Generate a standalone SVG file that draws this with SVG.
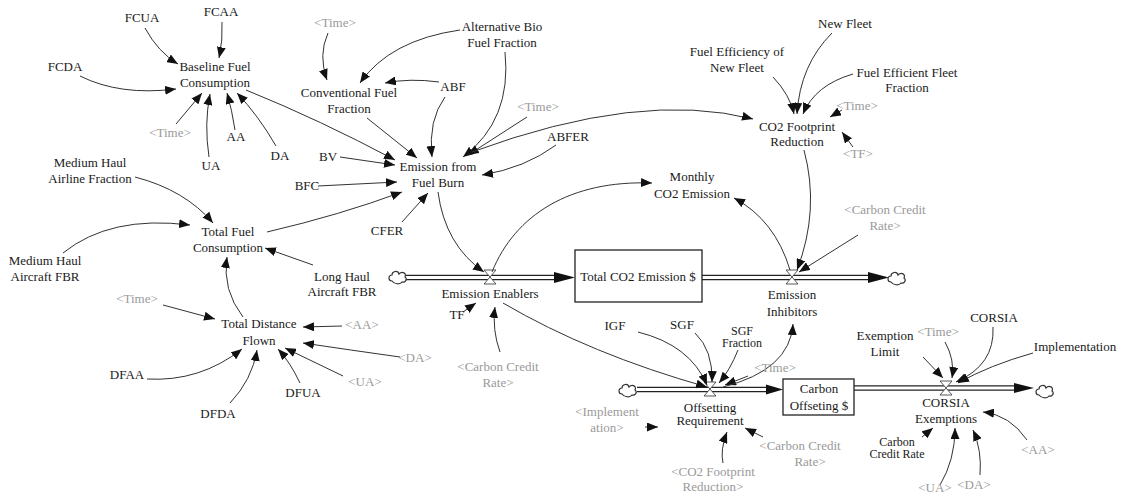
<svg xmlns="http://www.w3.org/2000/svg" width="1121" height="494" viewBox="0 0 1121 494" font-family="'Liberation Serif', 'DejaVu Serif', serif">
<style>
text{font-size:13px;fill:#1a1a1a;text-anchor:middle}
text.g{fill:#9a9a9a}
text.s{font-size:12px}
.link{fill:none;stroke:#333;stroke-width:1;marker-end:url(#ah)}
.pipeo{fill:none;stroke:#222;stroke-width:5.5}
.pipei{fill:none;stroke:#fff;stroke-width:2.8}
.box{fill:#fff;stroke:#222;stroke-width:1.3}
.valve{fill:#fff;stroke:#444;stroke-width:0.9}
.cloud{fill:#fff;stroke:#333;stroke-width:1.2}
.pa{fill:#111}
</style>
<defs>
<marker id="ah" markerUnits="userSpaceOnUse" markerWidth="12" markerHeight="9" refX="11" refY="4.5" orient="auto">
<path d="M0,0 L11,4.5 L0,9 z" fill="#111"/>
</marker>
<path id="cl" d="M-6,4 C-10,4 -10,-2 -6,-2 C-6,-6 0,-7 1,-3 C4,-6 9,-4 7,0 C10,2 7,6 4,5 C2,8 -4,7 -6,4 z"/>
<path id="vv" d="M-6,-7 L6,-7 L0,0 z M-6,7 L6,7 L0,0 z"/>
</defs>
<rect width="1121" height="494" fill="#fff"/>

<g id="flows">
<path class="pipeo" d="M406,277.5 L556,277.5"/><path class="pipei" d="M406,277.5 L557,277.5"/>
<polygon class="pa" points="554,272 575,277.5 554,283"/>
<path class="pipeo" d="M702,277.5 L870,277.5"/><path class="pipei" d="M701,277.5 L871,277.5"/>
<polygon class="pa" points="868,272 889,277.5 868,283"/>
<path class="pipeo" d="M637,389.5 L768,389.5"/><path class="pipei" d="M637,389.5 L769,389.5"/>
<polygon class="pa" points="766,384.5 783,389.5 766,394.5"/>
<path class="pipeo" d="M854,388 L1016,388"/><path class="pipei" d="M853,388 L1017,388"/>
<polygon class="pa" points="1014,383 1034,388 1014,393"/>
<use href="#cl" class="cloud" x="398" y="277"/>
<use href="#cl" class="cloud" x="897" y="278"/>
<use href="#cl" class="cloud" x="628" y="390"/>
<use href="#cl" class="cloud" x="1045" y="391"/>
<use href="#vv" class="valve" x="490" y="277"/>
<use href="#vv" class="valve" x="792" y="277"/>
<use href="#vv" class="valve" x="710" y="389"/>
<use href="#vv" class="valve" x="946" y="388"/>
</g>

<g id="connectors">
<path class="link" d="M145,28 Q158,52 178,64"/>
<path class="link" d="M222,22 Q223,40 219,58"/>
<path class="link" d="M80,76 Q120,96 176,89"/>
<path class="link" d="M176,124 L202,93"/>
<path class="link" d="M209,157 Q204,124 210,94"/>
<path class="link" d="M235,130 Q232,110 227,93"/>
<path class="link" d="M276,146 Q258,115 237,93"/>
<path class="link" d="M246,90 Q320,120 395,160"/>
<path class="link" d="M328,33 Q318,55 327,80"/>
<path class="link" d="M460,30 Q390,40 360,83"/>
<path class="link" d="M439,82 Q410,78 385,83"/>
<path class="link" d="M445,97 Q428,120 432,157"/>
<path class="link" d="M367,118 L417,158"/>
<path class="link" d="M505,52 Q512,120 463,157"/>
<path class="link" d="M527,117 L468,155"/>
<path class="link" d="M556,145 Q525,168 482,175"/>
<path class="link" d="M340,157 L395,165"/>
<path class="link" d="M318,186 L397,182"/>
<path class="link" d="M267,232 Q340,215 402,192"/>
<path class="link" d="M402,222 L428,193"/>
<path class="link" d="M472,152 Q640,90 753,119"/>
<path class="link" d="M773,77 Q790,95 794,114"/>
<path class="link" d="M832,33 Q800,65 797,114"/>
<path class="link" d="M853,74 Q815,85 803,114"/>
<path class="link" d="M842,110 L830,117"/>
<path class="link" d="M853,147 L842,132"/>
<path class="link" d="M804,150 Q820,210 797,270"/>
<path class="link" d="M492,272 C515,215 570,180 652,183"/>
<path class="link" d="M790,270 Q775,220 734,198"/>
<path class="link" d="M438,192 Q445,245 484,272"/>
<path class="link" d="M858,235 L799,272"/>
<path class="link" d="M135,177 Q185,190 213,223"/>
<path class="link" d="M63,253 Q110,215 190,225"/>
<path class="link" d="M243,317 Q222,290 227,257"/>
<path class="link" d="M313,265 L265,248"/>
<path class="link" d="M163,305 L215,319"/>
<path class="link" d="M342,326 L303,327"/>
<path class="link" d="M400,357 Q350,350 303,343"/>
<path class="link" d="M343,376 L285,348"/>
<path class="link" d="M300,383 Q290,362 278,349"/>
<path class="link" d="M230,403 Q252,380 257,350"/>
<path class="link" d="M147,379 Q200,382 242,349"/>
<path class="link" d="M463,312 L476,303"/>
<path class="link" d="M500,352 Q492,330 495,307"/>
<path class="link" d="M503,303 Q590,354 707,387"/>
<path class="link" d="M638,332 Q690,345 707,385"/>
<path class="link" d="M695,333 Q713,350 712,382"/>
<path class="link" d="M738,350 Q730,370 719,383"/>
<path class="link" d="M748,376 L725,385"/>
<path class="link" d="M723,387 Q790,370 793,324"/>
<path class="link" d="M645,427 L658,427"/>
<path class="link" d="M763,437 L745,428"/>
<path class="link" d="M723,463 Q720,450 727,432"/>
<path class="link" d="M923,357 L943,378"/>
<path class="link" d="M945,342 Q955,360 952,378"/>
<path class="link" d="M993,327 Q995,365 956,382"/>
<path class="link" d="M1033,353 Q990,365 958,383"/>
<path class="link" d="M922,437 L933,428"/>
<path class="link" d="M940,485 Q955,460 955,428"/>
<path class="link" d="M980,475 Q982,450 973,430"/>
<path class="link" d="M1027,440 Q1010,415 983,412"/>
</g>

<g id="stocks">
<g id="total-co2-emission"><rect class="box" x="575" y="250" width="127" height="52"/><text x="638" y="281">Total CO2 Emission $</text></g>
<g id="carbon-offseting"><rect class="box" x="783" y="379" width="71" height="36"/><text x="819" y="393">Carbon</text><text x="819" y="410">Offseting $</text></g>
</g>

<g id="variables">
<g id="fcua"><text x="142" y="22">FCUA</text></g>
<g id="fcaa"><text x="221" y="16">FCAA</text></g>
<g id="fcda"><text x="65" y="71">FCDA</text></g>
<g id="baseline-fuel"><text x="215" y="71">Baseline Fuel</text><text x="215" y="87">Consumption</text></g>
<g id="ua"><text x="211" y="170">UA</text></g>
<g id="aa"><text x="236" y="141">AA</text></g>
<g id="da"><text x="280" y="160">DA</text></g>
<g id="conv-fuel"><text x="349" y="97">Conventional Fuel</text><text x="349" y="113">Fraction</text></g>
<g id="alt-bio"><text x="502" y="31">Alternative Bio</text><text x="502" y="47">Fuel Fraction</text></g>
<g id="abf"><text x="453" y="91">ABF</text></g>
<g id="abfer"><text x="568" y="141">ABFER</text></g>
<g id="bv"><text x="328" y="161">BV</text></g>
<g id="bfc"><text x="307" y="190">BFC</text></g>
<g id="emission-fuel-burn"><text x="438" y="171">Emission from</text><text x="438" y="187">Fuel Burn</text></g>
<g id="new-fleet"><text x="845" y="28">New Fleet</text></g>
<g id="fuel-eff-new"><text x="737" y="56">Fuel Efficiency of</text><text x="737" y="72">New Fleet</text></g>
<g id="fuel-eff-frac"><text x="907" y="77">Fuel Efficient Fleet</text><text x="907" y="92">Fraction</text></g>
<g id="co2-footprint"><text x="797" y="131">CO2 Footprint</text><text x="797" y="146">Reduction</text></g>
<g id="monthly-co2"><text x="692" y="181">Monthly</text><text x="692" y="198">CO2 Emission</text></g>
<g id="mh-airline"><text x="90" y="167">Medium Haul</text><text x="90" y="183">Airline Fraction</text></g>
<g id="total-fuel"><text x="228" y="236">Total Fuel</text><text x="228" y="252">Consumption</text></g>
<g id="mh-aircraft"><text x="45" y="265">Medium Haul</text><text x="45" y="281">Aircraft FBR</text></g>
<g id="lh-aircraft"><text x="342" y="281">Long Haul</text><text x="342" y="296">Aircraft FBR</text></g>
<g id="cfer"><text x="387" y="235">CFER</text></g>
<g id="total-distance"><text x="259" y="328">Total Distance</text><text x="259" y="345">Flown</text></g>
<g id="dfaa"><text x="127" y="379">DFAA</text></g>
<g id="dfda"><text x="218" y="418">DFDA</text></g>
<g id="dfua"><text x="303" y="397">DFUA</text></g>
<g id="tf"><text x="457" y="319">TF</text></g>
<g id="emission-enablers"><text x="490" y="298">Emission Enablers</text></g>
<g id="emission-inhibitors"><text x="792" y="299">Emission</text><text x="792" y="316">Inhibitors</text></g>
<g id="igf"><text x="615" y="330">IGF</text></g>
<g id="sgf"><text x="682" y="329">SGF</text></g>
<g id="sgf-fraction"><text class="s" x="742" y="335">SGF</text><text class="s" x="742" y="347">Fraction</text></g>
<g id="offsetting-req"><text x="710" y="412">Offsetting</text><text x="710" y="425">Requirement</text></g>
<g id="exemption-limit"><text x="885" y="340">Exemption</text><text x="885" y="356">Limit</text></g>
<g id="corsia"><text x="994" y="322">CORSIA</text></g>
<g id="implementation"><text x="1075" y="351">Implementation</text></g>
<g id="corsia-exemptions"><text x="946" y="407">CORSIA</text><text x="946" y="423">Exemptions</text></g>
<g id="carbon-credit-rate"><text class="s" x="897" y="446">Carbon</text><text class="s" x="897" y="458">Credit Rate</text></g>
</g>

<g id="shadows">
<g id="time-1"><text class="g" x="170" y="137">&lt;Time&gt;</text></g>
<g id="time-2"><text class="g" x="335" y="27">&lt;Time&gt;</text></g>
<g id="time-3"><text class="g" x="538" y="111">&lt;Time&gt;</text></g>
<g id="time-4"><text class="g" x="857" y="110">&lt;Time&gt;</text></g>
<g id="tf-shadow"><text class="g" x="858" y="158">&lt;TF&gt;</text></g>
<g id="ccr-1"><text class="g" x="885" y="214">&lt;Carbon Credit</text><text class="g" x="885" y="230">Rate&gt;</text></g>
<g id="time-5"><text class="g" x="137" y="303">&lt;Time&gt;</text></g>
<g id="aa-shadow-1"><text class="g" x="362" y="329">&lt;AA&gt;</text></g>
<g id="da-shadow-1"><text class="g" x="415" y="362">&lt;DA&gt;</text></g>
<g id="ua-shadow-1"><text class="g" x="365" y="386">&lt;UA&gt;</text></g>
<g id="ccr-2"><text class="g" x="498" y="371">&lt;Carbon Credit</text><text class="g" x="498" y="387">Rate&gt;</text></g>
<g id="time-6"><text class="g" x="775" y="372">&lt;Time&gt;</text></g>
<g id="impl-shadow"><text class="g" x="607" y="416">&lt;Implement</text><text class="g" x="607" y="432">ation&gt;</text></g>
<g id="ccr-3"><text class="g" x="800" y="450">&lt;Carbon Credit</text><text class="g" x="810" y="466">Rate&gt;</text></g>
<g id="co2fr-shadow"><text class="g" x="713" y="476">&lt;CO2 Footprint</text><text class="g" x="713" y="491">Reduction&gt;</text></g>
<g id="time-7"><text class="g" x="938" y="336">&lt;Time&gt;</text></g>
<g id="aa-shadow-2"><text class="g" x="1038" y="454">&lt;AA&gt;</text></g>
<g id="ua-shadow-2"><text class="g" x="935" y="492">&lt;UA&gt;</text></g>
<g id="da-shadow-2"><text class="g" x="974" y="489">&lt;DA&gt;</text></g>
</g>
</svg>
